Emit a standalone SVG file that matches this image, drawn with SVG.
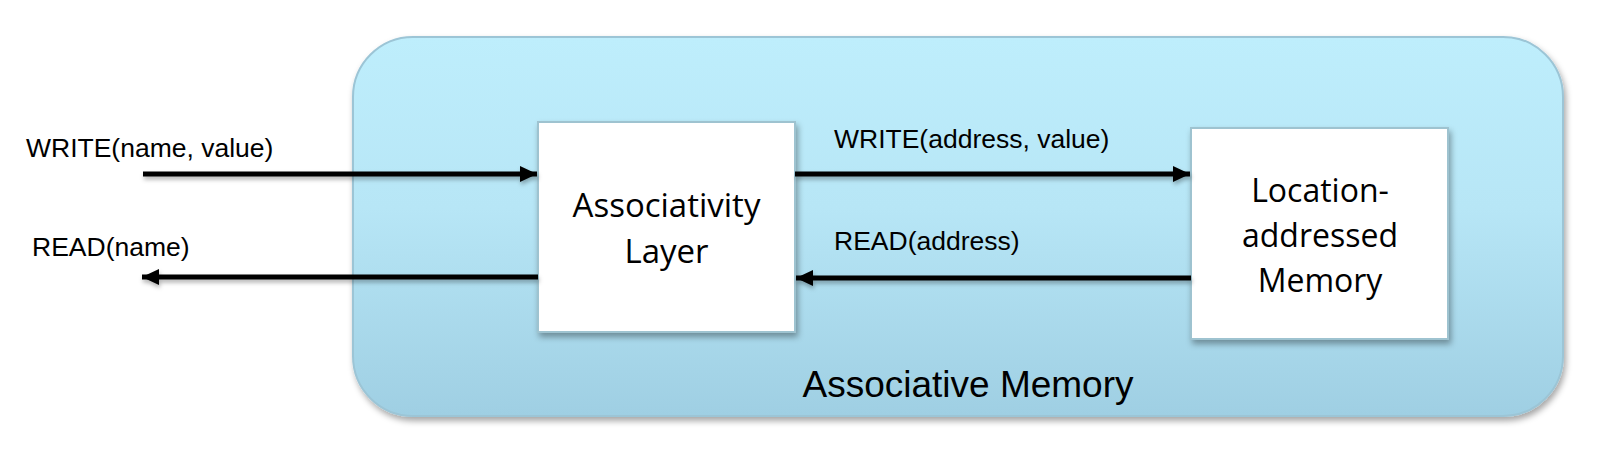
<svg xmlns="http://www.w3.org/2000/svg" width="1612" height="462" viewBox="0 0 1612 462">
<defs>
<linearGradient id="outerGrad" x1="0" y1="0" x2="0" y2="1">
<stop offset="0" stop-color="#BEEEFC"/>
<stop offset="0.45" stop-color="#B7E6F6"/>
<stop offset="1" stop-color="#9FCFE3"/>
</linearGradient>
<filter id="shadow" x="-5%" y="-5%" width="112%" height="115%">
<feDropShadow dx="2" dy="4" stdDeviation="3" flood-color="#000" flood-opacity="0.35"/>
</filter>
<filter id="lshadow" x="-5%" y="-100%" width="110%" height="300%">
<feDropShadow dx="1" dy="3" stdDeviation="2" flood-color="#000" flood-opacity="0.3"/>
</filter>
<marker id="arrow" viewBox="0 0 17 16" refX="17" refY="8" markerWidth="17" markerHeight="16" markerUnits="userSpaceOnUse" orient="auto">
<path d="M0,0 L17,8 L0,16 Z" fill="#000"/>
</marker>
</defs>
<style>
.lbl{font-family:"Liberation Sans",Arial,sans-serif;font-size:26.5px;fill:#000}
.box{fill:#fff;stroke:#9EC3D0;stroke-width:2}
.btxt{font-family:"Open Sans","Liberation Sans",sans-serif;font-size:33px;fill:#000;text-anchor:middle}
.conn{stroke:#000;stroke-width:5;fill:none;marker-end:url(#arrow)}
</style>
<g id="associative-memory">
<rect x="353" y="37" width="1210" height="379" rx="60" ry="60" fill="url(#outerGrad)" stroke="#9CC5D6" stroke-width="2" filter="url(#shadow)"/>
<text x="968" y="397" text-anchor="middle" style="font-family:'Liberation Sans',Arial,sans-serif;font-size:37px;fill:#000">Associative Memory</text>
</g>
<g id="associativity-layer">
<rect class="box" x="538" y="122" width="257" height="210" filter="url(#shadow)"/>
<text class="btxt" x="666.5" y="217">Associativity</text>
<text class="btxt" x="666.5" y="263">Layer</text>
</g>
<g id="location-memory">
<rect class="box" x="1191" y="128" width="257" height="211" filter="url(#shadow)"/>
<text class="btxt" x="1320" y="202" style="font-size:32px">Location-</text>
<text class="btxt" x="1320" y="247" style="font-size:32px">addressed</text>
<text class="btxt" x="1320" y="292" style="font-size:32px">Memory</text>
</g>
<g id="connectors" filter="url(#lshadow)">
<line class="conn" x1="143" y1="174" x2="537" y2="174"/>
<line class="conn" x1="538" y1="277" x2="142" y2="277"/>
<line class="conn" x1="795" y1="174" x2="1190" y2="174"/>
<line class="conn" x1="1191" y1="278" x2="796" y2="278"/>
</g>
<g id="labels">
<text class="lbl" x="26" y="157">WRITE(name, value)</text>
<text class="lbl" x="32" y="256">READ(name)</text>
<text class="lbl" x="834" y="148">WRITE(address, value)</text>
<text class="lbl" x="834" y="250">READ(address)</text>
</g>
</svg>
